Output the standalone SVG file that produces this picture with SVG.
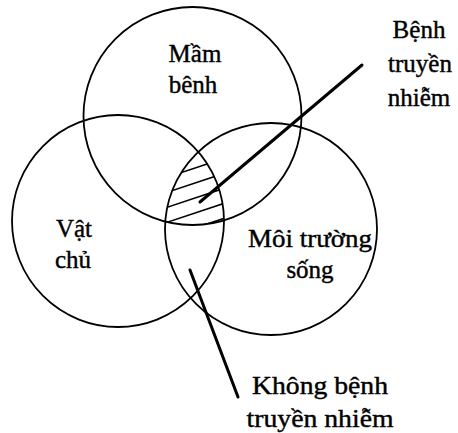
<svg xmlns="http://www.w3.org/2000/svg" width="458" height="433" viewBox="0 0 458 433">
<defs>
<style>
.c{fill:none;stroke:#000;stroke-width:1.8}
.t{font-family:"Liberation Serif","Times New Roman",serif;font-size:25px;fill:#000;stroke:#000;stroke-width:0.4;text-anchor:middle}
.p{stroke:#000;stroke-width:3;stroke-linecap:round}
.h{stroke:#000;stroke-width:1.6}
</style>
<clipPath id="cA"><circle cx="192.5" cy="116" r="109"/></clipPath>
<clipPath id="cB"><circle cx="118" cy="221" r="106"/></clipPath>
<clipPath id="cC"><circle cx="271" cy="229" r="106"/></clipPath>
</defs>
<rect width="458" height="433" fill="#fff"/>
<g id="hatch" clip-path="url(#cA)">
<g clip-path="url(#cB)">
<g clip-path="url(#cC)">
<line class="h" x1="150" y1="153" x2="240" y2="123"/>
<line class="h" x1="150" y1="168" x2="240" y2="138"/>
<line class="h" x1="150" y1="183" x2="240" y2="153"/>
<line class="h" x1="150" y1="198" x2="240" y2="168"/>
<line class="h" x1="150" y1="213" x2="240" y2="183"/>
<line class="h" x1="150" y1="228" x2="240" y2="198"/>
<line class="h" x1="150" y1="243" x2="240" y2="213"/>
<line class="h" x1="150" y1="258" x2="240" y2="228"/>
</g>
</g>
</g>
<g id="mam-benh">
<circle class="c" cx="192.5" cy="116" r="109"/>
<text class="t" x="195" y="62">Mầm</text>
<text class="t" x="193" y="93">bênh</text>
</g>
<g id="vat-chu">
<circle class="c" cx="118" cy="221" r="106"/>
<text class="t" x="74" y="237">Vật</text>
<text class="t" x="73" y="268">chủ</text>
</g>
<g id="moi-truong">
<circle class="c" cx="271" cy="229" r="106"/>
<text class="t" x="310" y="247" textLength="124" lengthAdjust="spacingAndGlyphs">Môi trường</text>
<text class="t" x="310" y="278">sống</text>
</g>
<g id="benh-truyen-nhiem">
<text class="t" x="419" y="38">Bệnh</text>
<text class="t" x="420" y="72">truyền</text>
<text class="t" x="419" y="106">nhiễm</text>
</g>
<g id="khong-benh">
<text class="t" x="320" y="394" textLength="136" lengthAdjust="spacingAndGlyphs">Không bệnh</text>
<text class="t" x="320" y="427" textLength="147" lengthAdjust="spacingAndGlyphs">truyền nhiễm</text>
</g>
<g id="connectors">
<line class="p" x1="362" y1="65" x2="200" y2="202"/>
<line class="p" x1="190" y1="270" x2="238" y2="397"/>
</g>
</svg>
